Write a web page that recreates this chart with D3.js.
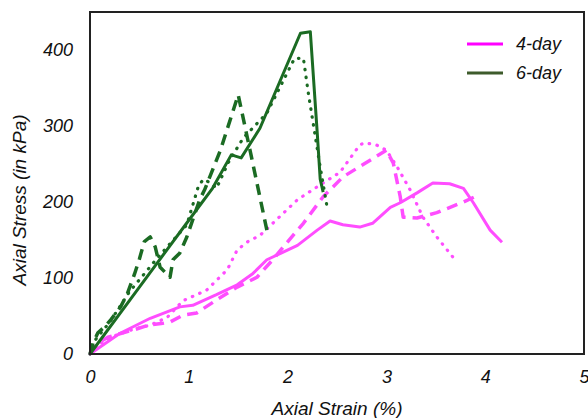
<!DOCTYPE html>
<html>
<head>
<meta charset="utf-8">
<script src="https://cdn.jsdelivr.net/npm/d3@7"></script>
<style>
  body { margin: 0; background: #fff; }
  text { font-family: "Liberation Sans", Arial, sans-serif; font-style: italic; }
</style>
</head>
<body>
<svg id="chart"></svg>
<script>
// strain (%) , stress (kPa)
const day4Solid = [[0,0],[0.3,27],[0.61,47],[0.91,62],[1.04,64],[1.28,78],[1.49,91],[1.65,106],[1.79,124],[1.89,130],[2.1,143],[2.3,163],[2.43,175],[2.56,170],[2.73,167],[2.86,172],[3.04,193],[3.14,199],[3.31,212],[3.47,225],[3.64,224],[3.78,218],[3.88,199],[4.05,163],[4.17,147]];
const day4Dash = [[0,0],[0.08,14],[0.18,22],[0.31,27],[0.45,32],[0.59,38],[0.72,40],[0.81,42],[0.94,51],[1.08,54],[1.28,71],[1.49,88],[1.69,101],[1.85,124],[1.99,146],[2.16,172],[2.36,207],[2.56,233],[2.76,249],[3.0,268],[3.07,251],[3.14,207],[3.17,180],[3.31,179],[3.51,186],[3.78,200],[3.93,209]];
const day4Dot = [[0,0],[0.12,15],[0.27,25],[0.45,33],[0.61,38],[0.78,48],[0.94,70],[1.18,84],[1.39,111],[1.49,137],[1.6,148],[1.72,156],[1.89,177],[2.1,203],[2.3,220],[2.53,239],[2.73,275],[2.78,278],[2.9,275],[3.0,268],[3.11,246],[3.24,216],[3.37,180],[3.51,154],[3.67,128]];

const day6Solid = [[0,0],[0.5,88],[1.0,176],[1.24,218],[1.43,262],[1.53,258],[1.72,297],[2.13,422],[2.23,424],[2.30,291],[2.33,230],[2.36,213]];
const day6Dash = [[0,0],[0.03,14],[0.08,28],[0.15,36],[0.21,45],[0.31,62],[0.38,80],[0.45,105],[0.5,125],[0.55,148],[0.61,154],[0.66,141],[0.71,114],[0.81,101],[0.84,124],[0.91,133],[0.98,154],[1.11,203],[1.16,216],[1.32,268],[1.50,341],[1.62,268],[1.79,163]];
const day6Dot = [[0,0],[0.05,18],[0.2,42],[0.4,82],[0.68,126],[0.98,170],[1.1,222],[1.15,230],[1.22,225],[1.28,218],[1.4,252],[1.55,284],[1.79,317],[2.07,389],[2.16,389],[2.21,343],[2.33,246],[2.40,193]];

const xTicks = [0, 1, 2, 3, 4, 5];
const yTicks = [0, 100, 200, 300, 400];
const legendLabels = ['4-day', '6-day'];

const width = 588, height = 418;
const margin = {top: 12, right: 4, bottom: 64, left: 90};
const innerW = width - margin.left - margin.right;
const innerH = height - margin.top - margin.bottom;

const pink = '#ff4dff', green = '#1b6b23';

const svg = d3.select('#chart').attr('width', width).attr('height', height);
const chart = svg.append('g').attr('transform', `translate(${margin.left}, ${margin.top})`);

const xscale = d3.scaleLinear().domain([0, 5]).range([0, innerW]);
const yscale = d3.scaleLinear().domain([0, 450]).range([innerH, 0]);

// axes (labels only, no tick marks)
const xAxis = chart.append('g')
    .attr('transform', `translate(0, ${innerH})`)
    .call(d3.axisBottom(xscale).tickValues(xTicks).tickSize(0).tickPadding(16).tickFormat(d3.format('d')));
const yAxis = chart.append('g')
    .call(d3.axisLeft(yscale).tickValues(yTicks).tickSize(0).tickPadding(17).tickFormat(d3.format('d')));
[xAxis, yAxis].forEach(a => {
    a.select('.domain').remove();
    a.selectAll('text').attr('font-size', 18).attr('fill', '#111')
        .attr('font-family', '"Liberation Sans", Arial, sans-serif').attr('font-style', 'italic');
});

const line = d3.line().x(d => xscale(d[0])).y(d => yscale(d[1]));

const series = [
    {data: day4Solid, color: pink, width: 3, dash: null},
    {data: day4Dash, color: pink, width: 3.5, dash: '11,7'},
    {data: day4Dot, color: pink, width: 3.2, dash: '0.5,7.5'},
    {data: day6Solid, color: green, width: 3, dash: null},
    {data: day6Dash, color: green, width: 3.5, dash: '11,7'},
    {data: day6Dot, color: green, width: 3.2, dash: '0.5,7.5'}
];

chart.selectAll('path.series')
    .data(series)
    .join('path')
    .attr('class', 'series')
    .attr('d', d => line(d.data))
    .style('fill', 'none')
    .style('stroke', d => d.color)
    .style('stroke-width', d => d.width)
    .style('stroke-dasharray', d => d.dash)
    .style('stroke-linecap', d => d.dash && d.dash.startsWith('0.5') ? 'round' : 'butt')
    .style('stroke-linejoin', 'round');

// frame
chart.append('rect')
    .attr('width', innerW).attr('height', innerH)
    .style('fill', 'none').style('stroke', '#222').style('stroke-width', 2);

// legend
const legend = svg.append('g').attr('transform', 'translate(467, 44)');
const lg = legend.selectAll('g')
    .data(legendLabels)
    .join('g')
    .attr('transform', (d, i) => `translate(0, ${i * 29})`);
lg.append('line')
    .attr('x1', 0).attr('x2', 36)
    .style('stroke', (d, i) => i === 0 ? '#ff00ff' : '#3d5b2b')
    .style('stroke-width', 3);
lg.append('text')
    .attr('x', 49).attr('dy', '0.35em')
    .attr('font-size', 18).attr('fill', '#111')
    .text(d => d);

// axis titles
svg.append('text')
    .attr('x', margin.left + innerW / 2).attr('y', 415)
    .attr('text-anchor', 'middle').attr('font-size', 19).attr('fill', '#111')
    .text('Axial Strain (%)');
svg.append('text')
    .attr('transform', 'translate(26, 200) rotate(-90)')
    .attr('text-anchor', 'middle').attr('font-size', 19).attr('fill', '#111')
    .text('Axial Stress (in kPa)');
</script>
</body>
</html>
